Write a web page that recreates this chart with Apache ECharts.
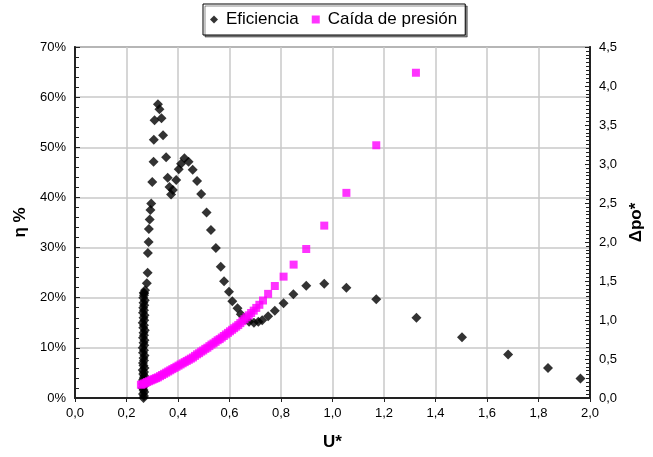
<!DOCTYPE html>
<html>
<head>
<meta charset="utf-8">
<script src="https://cdn.jsdelivr.net/npm/echarts@6/dist/echarts.min.js"></script>
<style>
  html, body { margin: 0; padding: 0; background: #fff; }
  #chart { width: 653px; height: 457px; }
</style>
</head>
<body>
<div id="chart"></div>
<script>
// Eficiencia (η %), left axis
const effU = [
  0.266, 0.268, 0.264, 0.269, 0.266, 0.263, 0.268, 0.265, 0.270, 0.264, 0.267, 0.269,
  0.265, 0.268, 0.263, 0.270, 0.266, 0.264, 0.268, 0.266, 0.270, 0.264, 0.268, 0.263,
  0.269, 0.266, 0.270, 0.264, 0.268, 0.266, 0.271, 0.265, 0.268, 0.263, 0.269, 0.266,
  0.270, 0.264, 0.268, 0.265, 0.269, 0.266, 0.271, 0.265, 0.268, 0.267, 0.272, 0.269,
  0.279, 0.282, 0.283, 0.286, 0.287, 0.290, 0.293, 0.296, 0.300, 0.305, 0.306, 0.309,
  0.322, 0.328, 0.336, 0.342, 0.354, 0.360, 0.367, 0.373, 0.380, 0.393,
  0.403, 0.412, 0.425, 0.441, 0.457, 0.474, 0.490, 0.511, 0.528, 0.547, 0.566, 0.579,
  0.598, 0.611, 0.631, 0.644, 0.660, 0.676, 0.695, 0.712, 0.727, 0.750, 0.776, 0.810,
  0.848, 0.898, 0.968, 1.054, 1.170, 1.326, 1.503, 1.682, 1.837, 1.963
];
const effPct = [
  0.0, 0.4, 0.8, 1.2, 1.6, 2.0, 2.4, 2.8, 3.2, 3.6, 4.0, 4.4,
  4.8, 5.2, 5.6, 6.0, 6.5, 7.0, 7.5, 8.0, 8.5, 9.0, 9.5, 10.0,
  10.5, 11.0, 11.5, 12.0, 12.5, 13.0, 13.5, 14.0, 14.5, 15.0, 15.5, 16.0,
  16.5, 17.0, 17.5, 18.0, 18.5, 19.0, 19.5, 20.0, 20.5, 21.0, 21.5, 20.9,
  22.9, 25.0, 28.9, 31.1, 33.7, 35.6, 37.5, 38.8, 43.1, 47.1, 51.5, 55.4,
  58.6, 57.6, 55.8, 52.4, 48.0, 43.9, 42.1, 40.6, 41.5, 43.5,
  45.6, 46.7, 47.8, 47.1, 45.5, 43.3, 40.7, 37.0, 33.5, 29.9, 26.2, 23.3,
  21.2, 19.3, 17.9, 16.7, 15.7, 15.2, 15.0, 15.2, 15.5, 16.3, 17.4, 18.9,
  20.7, 22.4, 22.8, 22.0, 19.7, 16.0, 12.1, 8.7, 6.0, 3.9
];

// Caída de presión (Δpo*), right axis
const dropU = [
  0.256, 0.262, 0.268, 0.274, 0.280, 0.287, 0.294, 0.301, 0.308, 0.315, 0.322, 0.330,
  0.338, 0.346, 0.354, 0.362, 0.370, 0.378, 0.386, 0.394, 0.402, 0.410, 0.418, 0.426,
  0.434, 0.442, 0.450, 0.458, 0.466, 0.474, 0.482, 0.490, 0.498, 0.506, 0.514, 0.522,
  0.530, 0.538, 0.546, 0.554, 0.562, 0.570, 0.578, 0.586, 0.594, 0.602, 0.610, 0.618,
  0.626, 0.634, 0.642, 0.650, 0.658, 0.666, 0.675, 0.684, 0.694, 0.704, 0.716, 0.730,
  0.750, 0.776, 0.810, 0.849, 0.898, 0.968, 1.054, 1.170, 1.324
];
const dropVal = [
  0.17, 0.175, 0.185, 0.195, 0.205, 0.215, 0.225, 0.235, 0.245, 0.255, 0.265, 0.28,
  0.295, 0.31, 0.325, 0.34, 0.355, 0.37, 0.385, 0.40, 0.415, 0.43, 0.445, 0.46,
  0.475, 0.49, 0.505, 0.52, 0.54, 0.56, 0.575, 0.595, 0.61, 0.63, 0.645, 0.665,
  0.685, 0.70, 0.72, 0.74, 0.755, 0.775, 0.795, 0.815, 0.835, 0.855, 0.875, 0.895,
  0.915, 0.935, 0.96, 0.985, 1.01, 1.035, 1.06, 1.09, 1.12, 1.155, 1.195, 1.25,
  1.335, 1.436, 1.556, 1.71, 1.91, 2.21, 2.63, 3.24, 4.17
];

const xTicks = ['0,0', '0,2', '0,4', '0,6', '0,8', '1,0', '1,2', '1,4', '1,6', '1,8', '2,0'];
const leftTicks = ['0%', '10%', '20%', '30%', '40%', '50%', '60%', '70%'];
const rightTicks = ['0,0', '0,5', '1,0', '1,5', '2,0', '2,5', '3,0', '3,5', '4,0', '4,5'];

const FONT = '"Liberation Sans", Arial, sans-serif';
const chart = echarts.init(document.getElementById('chart'));

chart.setOption({
  animation: false,
  backgroundColor: '#fff',
  textStyle: { fontFamily: FONT, color: '#000' },
  grid: {
    left: 75, right: 60, top: 47, bottom: 59,
    show: true, borderColor: '#808080', borderWidth: 2
  },
  legend: {
    left: 203, top: 4,
    padding: [7, 8, 7, 7],
    itemGap: 13,
    itemWidth: 8, itemHeight: 8,
    borderColor: '#000', borderWidth: 1,
    backgroundColor: '#fff',
    shadowColor: 'rgba(0,0,0,0.45)', shadowBlur: 0, shadowOffsetX: 2, shadowOffsetY: 2,
    textStyle: { fontFamily: FONT, fontSize: 17, color: '#000', padding: [0, 0, 0, 3] },
    data: [
      { name: 'Eficiencia', icon: 'diamond' },
      { name: 'Caída de presión', icon: 'rect' }
    ]
  },
  xAxis: {
    type: 'value', min: 0, max: 2, interval: 0.2,
    name: 'U*', nameLocation: 'middle', nameGap: 36,
    nameTextStyle: { fontFamily: FONT, fontSize: 17, fontWeight: 'bold', color: '#000' },
    axisLine: { onZero: false, lineStyle: { color: '#222', width: 2 } },
    axisTick: { show: true, length: 4, lineStyle: { color: '#222' } },
    axisLabel: {
      fontFamily: FONT, fontSize: 13, color: '#000', margin: 9,
      formatter: v => xTicks[Math.round(v / 0.2)]
    },
    splitLine: { show: true, lineStyle: { color: '#c8c8c8', width: 1.5 } }
  },
  yAxis: [
    {
      type: 'value', min: 0, max: 70, interval: 10,
      name: 'η %', nameLocation: 'middle', nameGap: 45, nameRotate: 90,
      nameTextStyle: { fontFamily: FONT, fontSize: 17, fontWeight: 'bold', color: '#000' },
      axisLine: { show: true, onZero: false, lineStyle: { color: '#222', width: 2 } },
      axisTick: { show: true, inside: true, length: 5, lineStyle: { color: '#222' } },
      minorTick: { show: true, splitNumber: 5, length: 4, lineStyle: { color: '#222' } },
      axisLabel: {
        fontFamily: FONT, fontSize: 13, color: '#000', margin: 9,
        formatter: v => leftTicks[Math.round(v / 10)]
      },
      splitLine: { show: true, lineStyle: { color: '#c8c8c8', width: 1.5 } }
    },
    {
      type: 'value', min: 0, max: 4.5, interval: 0.5, position: 'right',
      name: 'Δpo*', nameLocation: 'middle', nameGap: 38, nameRotate: 90,
      nameTextStyle: { fontFamily: FONT, fontSize: 17, fontWeight: 'bold', color: '#000' },
      axisLine: { show: true, onZero: false, lineStyle: { color: '#222', width: 2 } },
      axisTick: { show: true, inside: true, length: 5, lineStyle: { color: '#222' } },
      minorTick: { show: true, splitNumber: 10, length: 4, lineStyle: { color: '#222' } },
      axisLabel: {
        fontFamily: FONT, fontSize: 13, color: '#000', margin: 9,
        formatter: v => rightTicks[Math.round(v / 0.5)]
      },
      splitLine: { show: false }
    }
  ],
  series: [
    {
      name: 'Eficiencia',
      type: 'scatter',
      yAxisIndex: 0,
      symbol: 'diamond',
      symbolSize: 10,
      itemStyle: { color: '#000' },
      data: effU.map((u, i) => [u, effPct[i]])
    },
    {
      name: 'Caída de presión',
      type: 'scatter',
      yAxisIndex: 1,
      symbol: 'rect',
      symbolSize: 8,
      itemStyle: { color: '#ff00ff' },
      data: dropU.map((u, i) => [u, dropVal[i]])
    }
  ]
});
</script>
</body>
</html>
